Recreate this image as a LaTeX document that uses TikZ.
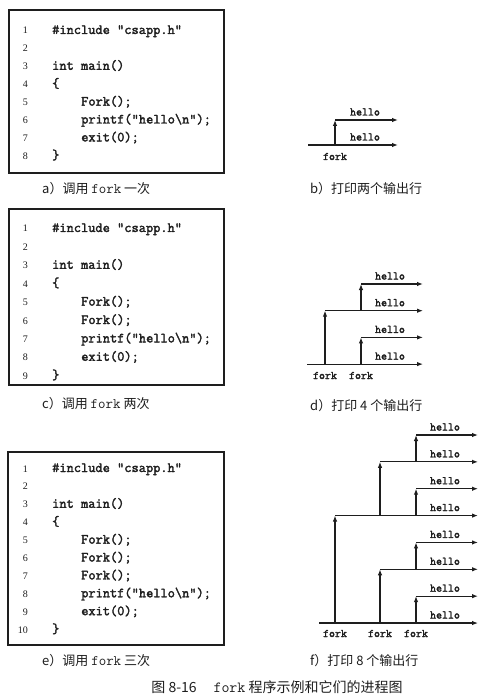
\documentclass[tikz,border=0pt]{standalone}
\usepackage{fontspec}
\setmainfont{Liberation Serif}
\setmonofont{Latin Modern Mono}[AutoFakeBold=2.2]
\newfontfamily\cjk{Noto Sans CJK SC}
\usepackage{xcolor}
\usetikzlibrary{arrows.meta,calc,positioning}

\definecolor{ink}{HTML}{1E1E1E}
\newcommand{\fk}{{\fontsize{14.5}{15}\selectfont\ttfamily fork}}
\tikzset{
  codebox/.style={draw=ink, line width=1.3pt},
  lno/.style={anchor=base east, inner sep=0pt, text=ink, font=\fontsize{10}{12}\selectfont},
  code/.style={anchor=base west, inner sep=0pt, text=ink, font=\fontsize{14}{16}\selectfont\ttfamily\bfseries},
  flow/.style={draw=ink, line width=1.1pt, -{Latex[length=6pt,width=4.5pt]}},
  lbl/.style={anchor=base, inner sep=0pt, text=ink, font=\fontsize{11.6}{13}\selectfont\ttfamily\bfseries},
  captext/.style={anchor=base west, inner sep=0pt, text=ink, font=\fontsize{13}{15}\selectfont\cjk},
}

\begin{document}
\begin{tikzpicture}[x=1pt, y=-1pt]
\useasboundingbox[fill=white] (0,0) rectangle (491,700);

% a) one fork
\draw[codebox] (9,10) rectangle (224,173);
\foreach \x/\txt [count=\i] in {52/{\#include "csapp.h"}, 52/{}, 52/{int main()}, 52/{\{},
    81/{Fork();}, 81/{printf("hello\textbackslash n");}, 81/{exit(0);}, 52/{\}}} {
  \node[lno] (an\i) at (28, {34+17.9*(\i-1)}) {\i};
  \node[code] (ac\i) at (\x, {34+17.9*(\i-1)}) {\txt};
}
\node[captext] (capa) at (42,194) {a）调用 \fk\ 一次};

% b) two lines
\foreach \k/\x in {1/308, 0/335} {
  \coordinate (bs\k) at (\x, {120+25*\k});
  \coordinate (be\k) at (398, {120+25*\k});
  \draw[flow] (bs\k) -- (be\k);
  \node[lbl] (bh\k) at ($(be\k)+(-33,-4.5)$) {hello};
}
\draw[flow] (bs0 |- bs1) -- (bs0);
\node[lbl] (bk1) at (335,160) {fork};
\node[captext] (capb) at (310,194) {b）打印两个输出行};

% c) two forks
\draw[codebox] (9,209) rectangle (224,385);
\foreach \x/\txt [count=\i] in {52/{\#include "csapp.h"}, 52/{}, 52/{int main()}, 52/{\{},
    81/{Fork();}, 81/{Fork();}, 81/{printf("hello\textbackslash n");}, 81/{exit(0);}, 52/{\}}} {
  \node[lno] (cn\i) at (28, {232+18.4*(\i-1)}) {\i};
  \node[code] (cc\i) at (\x, {232+18.4*(\i-1)}) {\txt};
}
\node[captext] (capc) at (42,408) {c）调用 \fk\ 两次};

% d) four lines
\foreach \k/\x in {3/307, 1/325, 2/361, 0/361} {
  \coordinate (ds\k) at (\x, {284+26.7*\k});
  \coordinate (de\k) at (423, {284+26.7*\k});
  \draw[flow] (ds\k) -- (de\k);
  \node[lbl] (dh\k) at ($(de\k)+(-33,-4.5)$) {hello};
}
\foreach \k/\from in {1/3, 2/3, 0/1}
  \draw[flow] (ds\k |- ds\from) -- (ds\k);
\node[lbl] (dk1) at (325,379) {fork};
\node[lbl] (dk2) at (361,379) {fork};
\node[captext] (capd) at (310,410) {d）打印 4 个输出行};

% e) three forks
\draw[codebox] (8,452) rectangle (224,645);
\foreach \x/\txt [count=\i] in {52/{\#include "csapp.h"}, 52/{}, 52/{int main()}, 52/{\{},
    81/{Fork();}, 81/{Fork();}, 81/{Fork();}, 81/{printf("hello\textbackslash n");},
    81/{exit(0);}, 52/{\}}} {
  \node[lno] (en\i) at (28, {472+17.9*(\i-1)}) {\i};
  \node[code] (ec\i) at (\x, {472+17.9*(\i-1)}) {\txt};
}
\node[captext] (cape) at (42,665) {e）调用 \fk\ 三次};

% f) eight lines
\foreach \k/\x in {7/319, 3/335, 5/380, 1/380, 6/416, 4/416, 2/416, 0/416} {
  \coordinate (fs\k) at (\x, {435+26.86*\k});
  \coordinate (fe\k) at (478, {435+26.86*\k});
  \draw[flow] (fs\k) -- (fe\k);
  \node[lbl] (fh\k) at ($(fe\k)+(-33,-4.5)$) {hello};
}
\foreach \k/\from in {3/7, 5/7, 1/3, 6/7, 4/5, 2/3, 0/1}
  \draw[flow] (fs\k |- fs\from) -- (fs\k);
\node[lbl] (fk1) at (335,637) {fork};
\node[lbl] (fk2) at (380,637) {fork};
\node[lbl] (fk3) at (416,637) {fork};
\node[captext] (capf) at (310,665) {f）打印 8 个输出行};

\node[captext, anchor=base, font=\fontsize{14}{16}\selectfont\cjk] (title) at (277,692)
  {图 8-16\hspace{1.2em}{\fontsize{15.5}{16}\selectfont\ttfamily fork} 程序示例和它们的进程图};
\end{tikzpicture}
\end{document}
